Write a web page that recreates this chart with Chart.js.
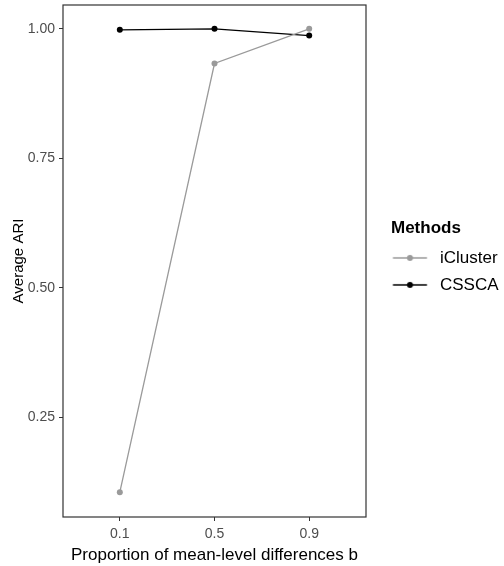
<!DOCTYPE html>
<html>
<head>
<meta charset="utf-8">
<script src="https://cdn.jsdelivr.net/npm/chart.js@4"></script>
<style>
html, body { margin: 0; padding: 0; background: #fff; }
#wrap { width: 504px; height: 566px; }
</style>
</head>
<body>
<div id="wrap"><canvas id="myChart"></canvas></div>
<script>
var proportions = [0.1, 0.5, 0.9];
var methods = ['iCluster', 'CSSCA'];
var iclusterAri = [0.105, 0.933, 1.0];
var csscaAri = [0.998, 1.0, 0.987];
var yTicks = [0.25, 0.5, 0.75, 1.0];

var colors = ['#9a9a9a', '#000000'];

function toPoints(values) {
    return values.map(function (v, i) { return { x: proportions[i], y: v }; });
}

// little line + dot glyph for the legend, like ggplot
// (drawn a bit left of the box centre so the text lands where it should)
function legendGlyph(color) {
    var c = document.createElement('canvas');
    c.width = 48;
    c.height = 8;
    var g = c.getContext('2d');
    g.strokeStyle = color;
    g.lineWidth = 1.3;
    g.beginPath();
    g.moveTo(0.75, 4);
    g.lineTo(34.75, 4);
    g.stroke();
    g.fillStyle = color;
    g.beginPath();
    g.arc(17.75, 4, 3, 0, 2 * Math.PI);
    g.fill();
    return c;
}
var glyphs = colors.map(legendGlyph);

var panelBorder = {
    id: 'panelBorder',
    afterDraw: function (chart) {
        var a = chart.chartArea;
        var ctx = chart.ctx;
        ctx.save();
        ctx.strokeStyle = '#333333';
        ctx.lineWidth = 1.2;
        ctx.strokeRect(a.left, a.top, a.right - a.left, a.bottom - a.top);
        ctx.restore();
    }
};

function noVertPadding(scale) {
    scale.paddingTop = 0;
    scale.paddingBottom = 0;
}

var ctx = document.getElementById('myChart').getContext('2d');
var myChart = new Chart(ctx, {
    type: 'line',
    plugins: [panelBorder],
    data: {
        datasets: [{
            label: methods[0],
            data: toPoints(iclusterAri),
            borderColor: colors[0],
            backgroundColor: colors[0],
            borderWidth: 1.3,
            pointRadius: 3,
            pointBorderWidth: 0,
            tension: 0
        }, {
            label: methods[1],
            data: toPoints(csscaAri),
            borderColor: colors[1],
            backgroundColor: colors[1],
            borderWidth: 1.3,
            pointRadius: 3,
            pointBorderWidth: 0,
            tension: 0
        }]
    },
    options: {
        responsive: true,
        maintainAspectRatio: false,
        animation: false,
        layout: { padding: { top: 5, right: 0, left: 0, bottom: 0 } },
        plugins: {
            tooltip: { enabled: false },
            legend: {
                position: 'right',
                fullSize: false,
                align: 'start',
                maxWidth: 113,
                title: {
                    display: true,
                    text: 'Methods',
                    color: '#000',
                    position: 'start',
                    padding: { top: 215, bottom: -1 },
                    font: { family: 'Liberation Sans', size: 17, weight: 'bold' }
                },
                labels: {
                    color: '#000',
                    usePointStyle: true,
                    pointStyleWidth: 30.5,
                    boxHeight: 10,
                    padding: 10,
                    font: { family: 'Liberation Sans', size: 17 },
                    generateLabels: function (chart) {
                        var items = Chart.defaults.plugins.legend.labels.generateLabels(chart);
                        items.forEach(function (it) { it.pointStyle = glyphs[it.datasetIndex]; });
                        return items;
                    }
                }
            }
        },
        scales: {
            x: {
                type: 'linear',
                min: -0.14,
                max: 1.14,
                afterBuildTicks: function (scale) {
                    scale.ticks = proportions.map(function (v) { return { value: v }; });
                },
                afterFit: function (scale) { scale.height = 49; },
                border: { display: false },
                grid: { drawOnChartArea: false, drawTicks: true, tickLength: 4, color: '#333333' },
                ticks: {
                    color: '#4d4d4d',
                    padding: 5,
                    maxRotation: 0,
                    font: { family: 'Liberation Sans', size: 14 },
                    callback: function (v) { return v.toFixed(1); }
                },
                title: {
                    display: true,
                    text: 'Proportion of mean-level differences b',
                    color: '#000',
                    padding: { top: 0, bottom: 0 },
                    font: { family: 'Liberation Sans', size: 17 }
                }
            },
            y: {
                min: 0.057,
                max: 1.046,
                afterBuildTicks: function (scale) {
                    scale.ticks = yTicks.map(function (v) { return { value: v }; });
                },
                afterFit: function (scale) {
                    scale.width = 63;
                    noVertPadding(scale);
                },
                border: { display: false },
                grid: { drawOnChartArea: false, drawTicks: true, tickLength: 4, color: '#333333' },
                ticks: {
                    color: '#4d4d4d',
                    padding: 4,
                    font: { family: 'Liberation Sans', size: 14 },
                    callback: function (v) { return v.toFixed(2); }
                },
                title: {
                    display: true,
                    text: 'Average ARI',
                    color: '#000',
                    padding: { top: 10, bottom: 0 },
                    font: { family: 'Liberation Sans', size: 15 }
                }
            },
            // empty axis: only keeps a gap between the panel and the legend
            gap: {
                position: 'right',
                min: 0,
                max: 1,
                afterFit: function (scale) {
                    scale.width = 25;
                    noVertPadding(scale);
                },
                border: { display: false },
                grid: { display: false },
                ticks: { display: false }
            }
        }
    }
});
</script>
</body>
</html>
